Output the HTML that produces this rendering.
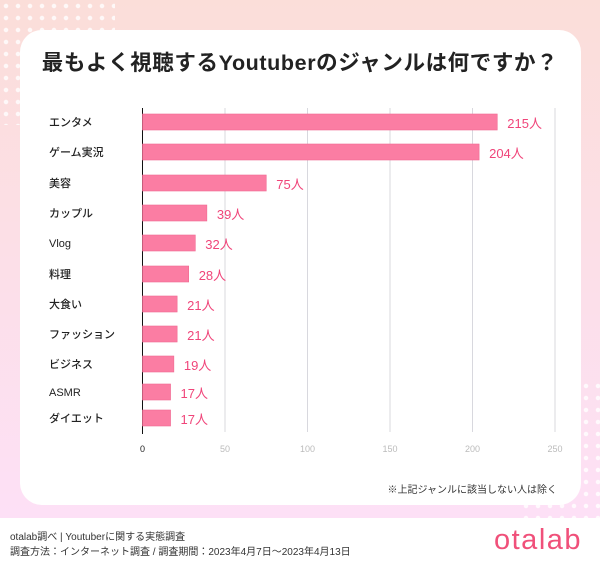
<!DOCTYPE html>
<html><head><meta charset="utf-8"><style>
body{margin:0;width:600px;height:563px;overflow:hidden;font-family:"Liberation Sans","Noto Sans CJK JP",sans-serif;}
#bg{position:absolute;left:0;top:0;width:600px;height:518px;background:linear-gradient(#fbded9,#fde0f6);}
.dots{position:absolute;background-image:radial-gradient(circle,#fff 2px,transparent 2.5px);background-size:12px 12px;opacity:.8}
#card{position:absolute;left:20px;top:30px;width:561px;height:475px;background:#fff;border-radius:22px;}
#footer{position:absolute;left:0;top:518px;width:600px;height:45px;background:#fff;}
</style></head><body>
<div id="bg"></div>
<div class="dots" style="left:0;top:0;width:115px;height:125px"></div>
<div class="dots" style="left:520px;top:380px;width:80px;height:138px"></div>
<div id="card"></div>
<svg id="chart" width="600" height="563" style="position:absolute;left:0;top:0">
<text x="300" y="70" text-anchor="middle" font-size="21.5" font-weight="bold" fill="#222" letter-spacing="0.6">最もよく視聴するYoutuberのジャンルは何ですか？</text>
<g id="g"></g>
<text x="557" y="493" text-anchor="end" font-size="10" fill="#333">※上記ジャンルに該当しない人は除く</text>
</svg>
<div id="footer">
<div style="position:absolute;left:10px;top:10px;font-size:10px;color:#333">otalab調べ | Youtuberに関する実態調査</div>
<div style="position:absolute;left:10px;top:25px;font-size:10px;color:#333">調査方法：インターネット調査 / 調査期間：2023年4月7日〜2023年4月13日</div>
<div style="position:absolute;left:494px;top:6px;font-size:29px;color:#f0507a;letter-spacing:1.5px">otalab</div>
</div>
<script>
const categories=["エンタメ","ゲーム実況","美容","カップル","Vlog","料理","大食い","ファッション","ビジネス","ASMR","ダイエット"];
const values=[215,204,75,39,32,28,21,21,19,17,17];
const ticks=[0,50,100,150,200,250];
const rowY=[122,152,183,213,243,274,304,334,364,392,418];
const ns="http://www.w3.org/2000/svg",g=document.getElementById('g');
const x=v=>142.5+v*1.65;
function mk(t,a,txt){const e=document.createElementNS(ns,t);for(const k in a)e.setAttribute(k,a[k]);if(txt!=null)e.textContent=txt;g.appendChild(e);return e;}
ticks.forEach((t,i)=>{
 if(i>0){const l=mk('line',{x1:x(t),x2:x(t),y1:108,y2:432,stroke:'#d8d8de','stroke-width':1});
 
 }
 const tl=mk('text',{x:x(t),y:452,'text-anchor':'middle','font-size':9,fill:i==0?'#222':'#bbb'},t);
 
 
});
const ax=mk('line',{x1:x(0),x2:x(0),y1:108,y2:434,stroke:'#111','stroke-width':1});


categories.forEach((c,i)=>{
 const y=rowY[i];
 const lb=mk('text',{x:49,y:y+4,'font-size':11,fill:'#222','font-weight':'500'},c);
 
 
 const b=mk('rect',{x:x(0),y:y-8,width:x(values[i])-x(0),height:16,fill:'#fb7da3',stroke:'#f06a92','stroke-width':0.6});
 
 
 const v=mk('text',{x:x(values[i])+10,y:y+6,'font-size':13,fill:'#f0457a'},values[i]+'人');
 
 
});
</script>
</body></html>
